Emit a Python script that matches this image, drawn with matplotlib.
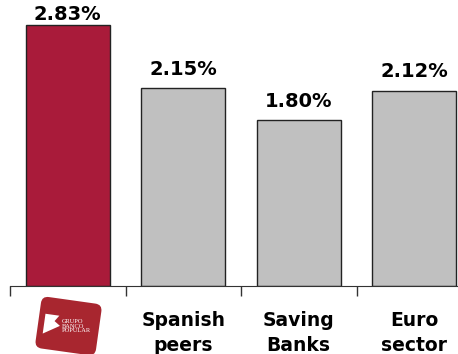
import matplotlib.pyplot as plt
from matplotlib.patches import FancyBboxPatch, Polygon
from matplotlib.transforms import Affine2D

categories = ["", "Spanish\npeers", "Saving\nBanks", "Euro\nsector"]
values = [2.83, 2.15, 1.80, 2.12]
value_labels = ["2.83%", "2.15%", "1.80%", "2.12%"]
bar_colors = ["#A91B3A", "#C0C0C0", "#C0C0C0", "#C0C0C0"]

fig = plt.figure(figsize=(4.58, 3.54), dpi=100)
# axes run a little past the right edge of the figure
ax = fig.add_axes([10 / 458, 68 / 354, 462 / 458, 276.6 / 354])

x = list(range(len(values)))
ax.bar(x, values, width=0.73, color=bar_colors, edgecolor="#222222", linewidth=1.0)

for xi, v, lab in zip(x, values, value_labels):
    # keep the tallest label inside the figure
    ax.text(xi, min(v + 0.1, 2.845), lab, ha="center", va="bottom",
            fontsize=14, fontweight="bold", family="DejaVu Sans")

ax.set_xlim(-0.5, 3.5)
ax.set_ylim(0, 3.0)
ax.set_yticks([])
for side in ["left", "right", "top"]:
    ax.spines[side].set_visible(False)
ax.spines["bottom"].set_color("#333333")

ax.set_xticks(x)
ax.set_xticklabels(categories, fontsize=13.5, fontweight="bold",
                   family="DejaVu Sans", linespacing=1.4)
ax.tick_params(axis="x", which="major", length=0, pad=18)
ax.set_xticks([-0.5, 0.5, 1.5, 2.5, 3.5], minor=True)
ax.tick_params(axis="x", which="minor", length=7, color="#333333", width=1)

# bank logo under the first bar
logo_ax = fig.add_axes([30 / 458, 0, 76 / 458, 60 / 354])
logo_ax.set_xlim(0, 76)
logo_ax.set_ylim(0, 60)
logo_ax.axis("off")
rot = Affine2D().rotate_deg_around(38, 28, -8) + logo_ax.transData
box = FancyBboxPatch((8, 2), 61, 52, boxstyle="round,pad=0,rounding_size=7",
                     facecolor="#A8262F", edgecolor="none", transform=rot)
logo_ax.add_patch(box)
flag = Polygon([(14, 17), (14, 37), (28, 37), (24, 31), (30, 27), (14, 17)],
               closed=True, facecolor="white", edgecolor="none", transform=rot)
logo_ax.add_patch(flag)
logo_ax.text(32, 27, "GRUPO\nBANCO\nPOPULAR", color="white", fontsize=4.6,
             ha="left", va="center", linespacing=0.85, family="Liberation Serif",
             transform=rot)

fig.savefig("out.png", dpi=100)
